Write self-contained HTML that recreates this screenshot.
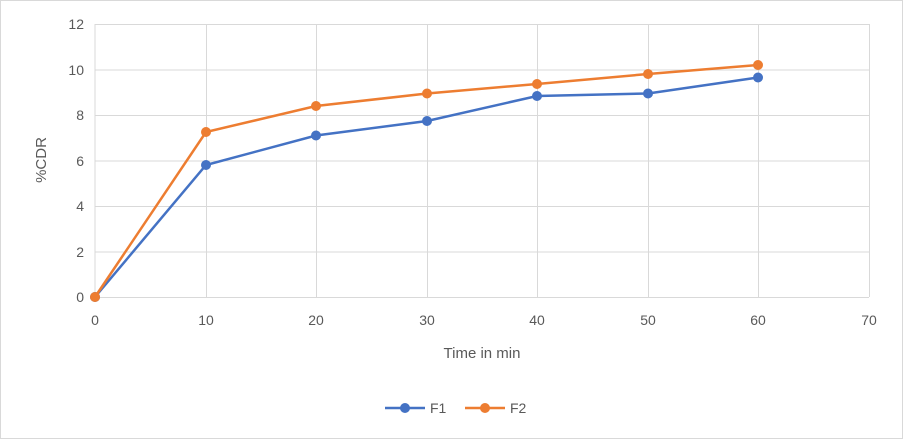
<!DOCTYPE html>
<html><head><style>
body{margin:0;background:#fff}
svg{display:block;font-family:"Liberation Sans",sans-serif}
</style></head><body>
<svg width="903" height="439" viewBox="0 0 903 439">
<rect x="0.5" y="0.5" width="902" height="438" fill="#fff" stroke="#d9d9d9"/>
<g stroke="#d9d9d9" stroke-width="1">
<line x1="95" y1="24.5" x2="869" y2="24.5"/>
<line x1="95" y1="70" x2="869" y2="70"/>
<line x1="95" y1="115.5" x2="869" y2="115.5"/>
<line x1="95" y1="161" x2="869" y2="161"/>
<line x1="95" y1="206.5" x2="869" y2="206.5"/>
<line x1="95" y1="252" x2="869" y2="252"/>
<line x1="206.5" y1="24" x2="206.5" y2="297"/>
<line x1="316.5" y1="24" x2="316.5" y2="297"/>
<line x1="427.5" y1="24" x2="427.5" y2="297"/>
<line x1="537.5" y1="24" x2="537.5" y2="297"/>
<line x1="648.5" y1="24" x2="648.5" y2="297"/>
<line x1="758.5" y1="24" x2="758.5" y2="297"/>
<line x1="869.5" y1="24" x2="869.5" y2="297"/>
<line x1="95" y1="24" x2="95" y2="297"/>
<line x1="95" y1="297.5" x2="869" y2="297.5"/>
</g>
<g fill="#595959" font-size="14" text-anchor="end">
<text x="84" y="302">0</text><text x="84" y="257">2</text><text x="84" y="211">4</text>
<text x="84" y="166">6</text><text x="84" y="120">8</text><text x="84" y="75">10</text><text x="84" y="29">12</text>
</g>
<g fill="#595959" font-size="14" text-anchor="middle">
<text x="95" y="325">0</text><text x="206" y="325">10</text><text x="316" y="325">20</text><text x="427" y="325">30</text>
<text x="537" y="325">40</text><text x="648" y="325">50</text><text x="758" y="325">60</text><text x="869" y="325">70</text>
<text x="482" y="358" font-size="15">Time in min</text>
<text transform="translate(46,160) rotate(-90)" font-size="15">%CDR</text>
</g>
<polyline fill="none" stroke="#4472c4" stroke-width="2.5" points="95,297 206,165 316,135.5 427,121 537,96 648,93.5 758,77.5"/>
<g fill="#4472c4"><circle cx="95" cy="297" r="5"/><circle cx="206" cy="165" r="5"/><circle cx="316" cy="135.5" r="5"/><circle cx="427" cy="121" r="5"/><circle cx="537" cy="96" r="5"/><circle cx="648" cy="93.5" r="5"/><circle cx="758" cy="77.5" r="5"/></g>
<polyline fill="none" stroke="#ed7d31" stroke-width="2.5" points="95,297 206,132 316,106 427,93.5 537,84 648,74 758,65"/>
<g fill="#ed7d31"><circle cx="95" cy="297" r="5"/><circle cx="206" cy="132" r="5"/><circle cx="316" cy="106" r="5"/><circle cx="427" cy="93.5" r="5"/><circle cx="537" cy="84" r="5"/><circle cx="648" cy="74" r="5"/><circle cx="758" cy="65" r="5"/></g>
<line x1="385" y1="408" x2="425" y2="408" stroke="#4472c4" stroke-width="2.5"/><circle cx="405" cy="408" r="5" fill="#4472c4"/>
<text x="430" y="413" font-size="14" fill="#595959">F1</text>
<line x1="465" y1="408" x2="505" y2="408" stroke="#ed7d31" stroke-width="2.5"/><circle cx="485" cy="408" r="5" fill="#ed7d31"/>
<text x="510" y="413" font-size="14" fill="#595959">F2</text>
</svg>
</body></html>
